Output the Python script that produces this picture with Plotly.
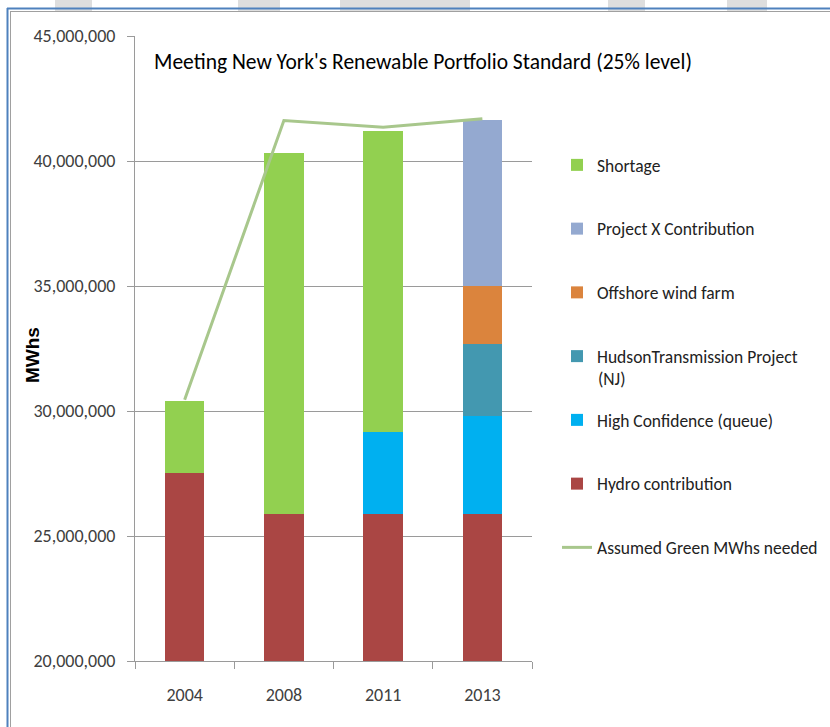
import plotly.graph_objects as go

years = ["2004", "2008", "2011", "2013"]
hydro = [27_520_000, 25_880_000, 25_880_000, 25_880_000]
high_conf = [0, 0, 3_280_000, 3_940_000]
hudson = [0, 0, 0, 2_880_000]
offshore = [0, 0, 0, 2_300_000]
project_x = [0, 0, 0, 6_630_000]
shortage = [2_880_000, 14_440_000, 12_060_000, 0]
needed = [30_450_000, 41_620_000, 41_350_000, 41_690_000]
y_ticks = [20_000_000, 25_000_000, 30_000_000, 35_000_000, 40_000_000, 45_000_000]

W, H = 830, 727
# plot area in page pixels
L, R, T, B = 135, 532, 36, 661


def px(x):
    return (x - L) / (R - L)


def py(y):
    return (B - y) / (B - T)


FONT = "Carlito, Lato, sans-serif"
fig = go.Figure()

series = [
    ("Hydro contribution", hydro, "#AA4644", 6),
    ("High Confidence (queue)", high_conf, "#00B0F0", 5),
    ("HudsonTransmission Project", hudson, "#4398B0", 4),
    ("Offshore wind farm", offshore, "#DB843D", 3),
    ("Project X Contribution", project_x, "#94A9D0", 2),
    ("Shortage", shortage, "#92D050", 1),
]
for name, vals, color, rank in series:
    fig.add_trace(go.Bar(
        x=years, y=vals, name=name,
        marker=dict(color=color, line=dict(width=0)),
        legendgroup=name, legendrank=rank,
    ))

fig.add_trace(go.Scatter(
    x=years, y=needed, mode="lines", name="Assumed Green MWhs needed",
    line=dict(color="#A8C78C", width=3), legendgroup="line", legendrank=7,
))

shapes = []
for x0, x1 in [(55, 92), (238, 280), (340, 470), (608, 645), (727, 767)]:
    shapes.append(dict(type="rect", xref="paper", yref="paper",
                       x0=px(x0), x1=px(x1), y0=py(12), y1=py(0),
                       fillcolor="#DEDEDE", line=dict(width=0), layer="below"))
shapes += [
    dict(type="line", xref="paper", yref="paper", x0=px(7), x1=px(830), y0=py(8.5), y1=py(8.5),
         line=dict(color="#4F81BD", width=2)),
    dict(type="line", xref="paper", yref="paper", x0=px(7.5), x1=px(7.5), y0=py(8), y1=py(727),
         line=dict(color="#4F81BD", width=2)),
    dict(type="line", xref="paper", yref="paper", x0=px(10), x1=px(830), y0=py(11.5), y1=py(11.5),
         line=dict(color="#A0A0A0", width=1)),
    dict(type="line", xref="paper", yref="paper", x0=px(10.5), x1=px(10.5), y0=py(11.5), y1=py(727),
         line=dict(color="#A0A0A0", width=1)),
]

annotations = [
    dict(text="Meeting New York's Renewable Portfolio Standard (25% level)",
         xref="paper", yref="paper", x=px(152), y=py(62), xanchor="left", yanchor="middle",
         showarrow=False, font=dict(family=FONT, size=21.5, color="#000000")),
    dict(text="<b>MWhs</b>", xref="paper", yref="paper", x=px(32), y=py(355),
         xanchor="center", yanchor="middle", textangle=-90, showarrow=False,
         font=dict(family="Liberation Sans, Arial, sans-serif", size=19, color="#000000")),
    dict(text="(NJ)", xref="paper", yref="paper", x=px(596), y=py(379),
         xanchor="left", yanchor="middle", showarrow=False,
         font=dict(family=FONT, size=17.5, color="#222222")),
]

fig.update_layout(
    width=W, height=H,
    margin=dict(l=L, r=W - R, t=T, b=H - B, autoexpand=False),
    barmode="stack", bargap=0.6,
    paper_bgcolor="white", plot_bgcolor="white",
    font=dict(family=FONT, size=18, color="#404040"),
    shapes=shapes, annotations=annotations,
    legend=dict(xref="container", yref="container",
                x=557 / W, y=1 - 147 / H, xanchor="left", yanchor="top",
                traceorder="grouped", tracegroupgap=38, maxheight=1000,
                font=dict(family=FONT, size=17.5, color="#222222"),
                bgcolor="rgba(0,0,0,0)"),
    xaxis=dict(type="category", showline=True, linecolor="#9A9A9A", linewidth=1,
               ticks="outside", tickson="boundaries", ticklen=7, tickcolor="#9A9A9A",
               ticklabelstandoff=17, showgrid=False,
               tickfont=dict(family=FONT, size=18, color="#404040")),
    yaxis=dict(range=[20_000_000, 45_000_000], tickvals=y_ticks,
               tickformat=",d", showline=True, linecolor="#9A9A9A", linewidth=1,
               ticks="outside", ticklen=7, tickcolor="#9A9A9A",
               showgrid=True, gridcolor="#9A9A9A", gridwidth=1,
               ticklabelstandoff=8, zeroline=False,
               tickfont=dict(family=FONT, size=18, color="#404040")),
)

fig.write_html("out.html", config={"displayModeBar": False},
               post_script="document.body.style.margin='0';document.body.style.overflow='hidden';")
